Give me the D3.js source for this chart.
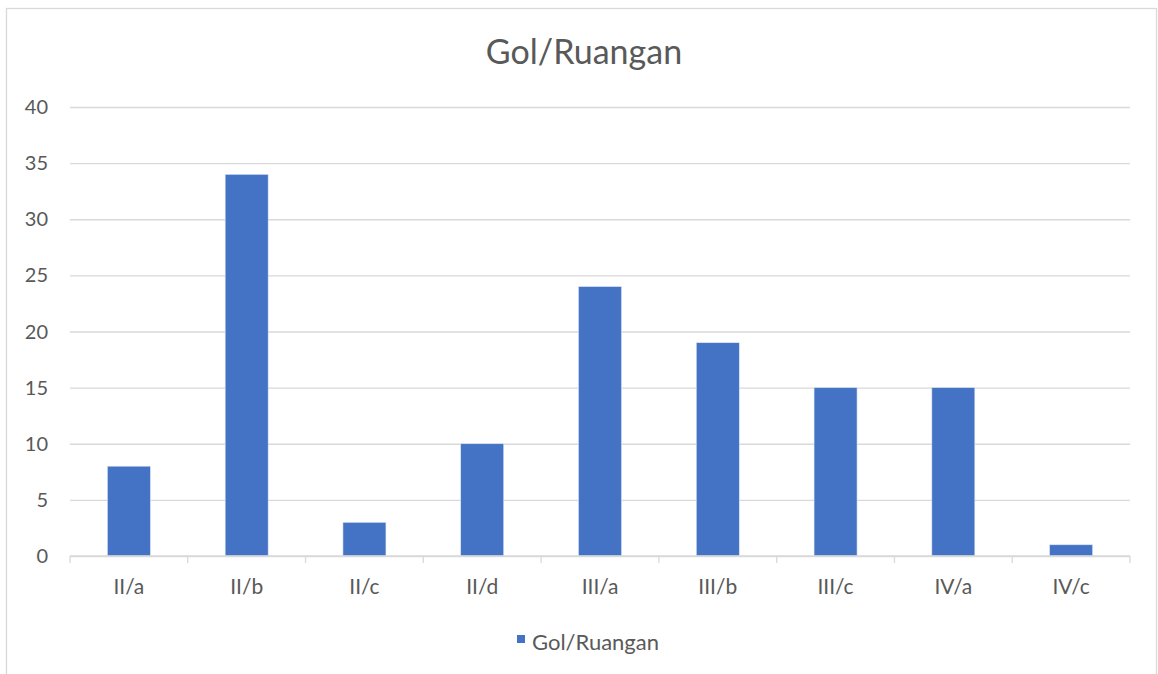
<!DOCTYPE html>
<html lang="en">
<head>
<meta charset="UTF-8">
<title>Gol/Ruangan</title>
<script src="https://d3js.org/d3.v7.min.js"></script>
<style>
body, html {
	margin: 0;
	padding: 0;
	background: white;
}
text {
	font-family: Lato, "Open Sans", sans-serif;
	fill: #595959;
}
.gridline line {
	stroke: #d9d9d9;
	stroke-width: 1.3px;
}
.gridline path { display: none; }
.axis path, .axis line {
	stroke: #d9d9d9;
	stroke-width: 1.3px;
}
.bar {
	fill: #4472C4;
	stroke: #dbe4f3;
	stroke-width: 0.6px;
}
</style>
</head>
<body>
<script>
var categories = ["II/a", "II/b", "II/c", "II/d", "III/a", "III/b", "III/c", "IV/a", "IV/c"];
var values = [8, 34, 3, 10, 24, 19, 15, 15, 1];
var yTicks = [0, 5, 10, 15, 20, 25, 30, 35, 40];
var seriesName = "Gol/Ruangan";

var w = 1158, h = 674;
var margin = {top: 107, bottom: 118, left: 70, right: 28};
var width = w - margin.left - margin.right;
var height = h - margin.top - margin.bottom;

var svg = d3.select("body").append("svg")
	.attr("width", w)
	.attr("height", h);

// chart border
svg.append("rect")
	.attr("x", 6.5).attr("y", 8.5)
	.attr("width", 1150).attr("height", 700)
	.style("fill", "none")
	.style("stroke", "#d9d9d9")
	.style("stroke-width", 1.3);

svg.append("text")
	.attr("x", w / 2 + 5)
	.attr("y", 64)
	.style("text-anchor", "middle")
	.style("font-size", "34px")
	.text(seriesName);

var chart = svg.append("g")
	.attr("transform", "translate(" + margin.left + "," + margin.top + ")");

var x = d3.scaleBand().domain(categories).range([0, width]).paddingInner(0.635).paddingOuter(0.3175);
var y = d3.scaleLinear().domain([0, 40]).range([height, 0]);

var yGrid = d3.axisLeft(y).tickValues(yTicks).tickSize(-width).tickFormat("");
chart.append("g").classed("gridline", true).call(yGrid);

// y labels
chart.selectAll(".ylabel")
	.data(yTicks)
	.enter().append("text")
	.attr("x", -22)
	.attr("y", function(d) { return y(d); })
	.attr("dy", "0.35em")
	.style("text-anchor", "end")
	.style("font-size", "20px")
	.text(function(d) { return d; });

chart.selectAll(".bar")
	.data(values)
	.enter().append("rect")
	.classed("bar", true)
	.attr("x", function(d, i) { return x(categories[i]); })
	.attr("y", function(d) { return y(d); })
	.attr("width", x.bandwidth())
	.attr("height", function(d) { return height - y(d); });

// x axis line with ticks at category boundaries
var bounds = d3.range(categories.length + 1).map(function(i) { return i * width / categories.length; });
var xAxis = chart.append("g").classed("axis", true).attr("transform", "translate(0," + height + ")");
xAxis.append("path").attr("d", "M0,0H" + width);
xAxis.selectAll("line").data(bounds).enter().append("line")
	.attr("x1", function(d) { return d; }).attr("x2", function(d) { return d; })
	.attr("y1", 0).attr("y2", 7);

chart.selectAll(".xlabel")
	.data(categories)
	.enter().append("text")
	.attr("x", function(d) { return x(d) + x.bandwidth() / 2; })
	.attr("y", height + 38)
	.style("text-anchor", "middle")
	.style("font-size", "21px")
	.text(function(d) { return d; });

// legend
var legend = svg.append("g").attr("transform", "translate(517,643)");
legend.append("rect")
	.attr("x", 0).attr("y", -8)
	.attr("width", 8).attr("height", 8)
	.style("fill", "#4472C4");
legend.append("text")
	.attr("x", 15).attr("y", 7)
	.style("font-size", "22px")
	.text(seriesName);
</script>
</body>
</html>
